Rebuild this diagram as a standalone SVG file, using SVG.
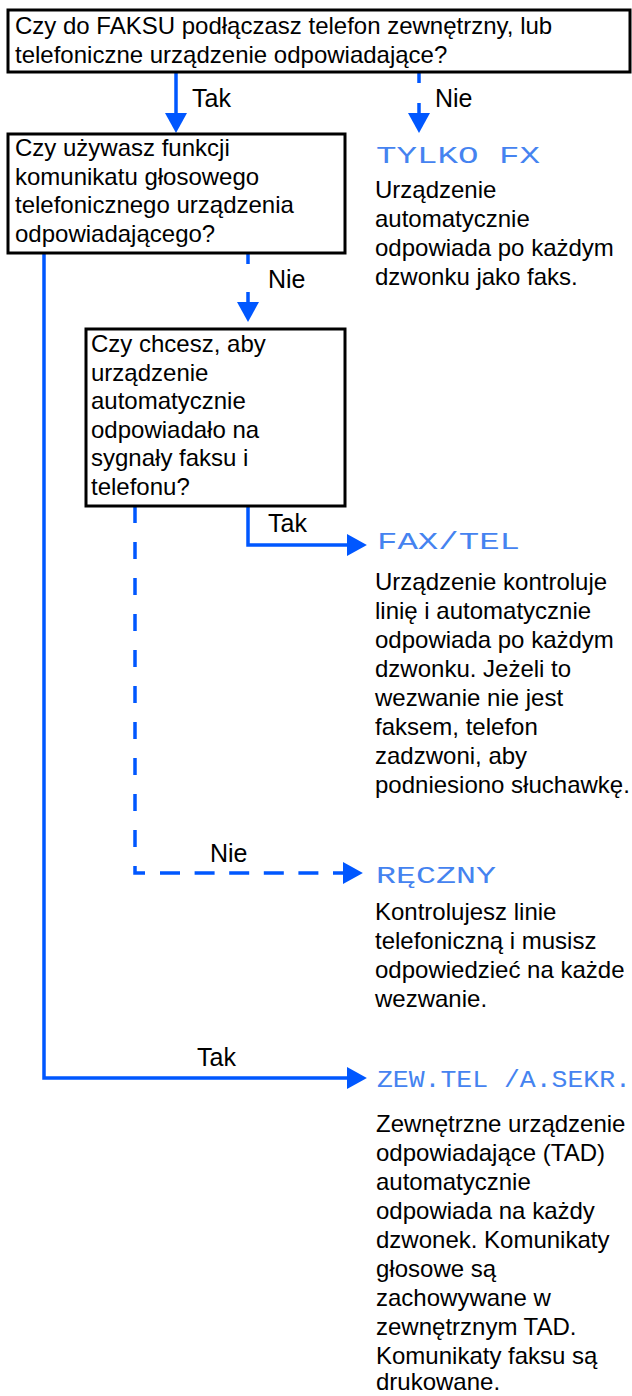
<svg xmlns="http://www.w3.org/2000/svg" width="632" height="1396" viewBox="0 0 632 1396">
  <style>
    .box { fill: #ffffff; stroke: #000000; stroke-width: 3; }
    .q { font-family: "Liberation Sans", Arial, sans-serif; font-size: 24px; fill: #000000; }
    .lbl { font-family: "Liberation Sans", Arial, sans-serif; font-size: 25px; fill: #000000; }
    .mode { font-family: "Liberation Mono", "Courier New", monospace; font-size: 23px; fill: #4583f0; }
    .desc { font-family: "Liberation Sans", Arial, sans-serif; font-size: 24px; fill: #000000; }
    .flow { fill: none; stroke: #0057ff; stroke-width: 3.5; }
  </style>
  <defs>
    <marker id="head" markerUnits="userSpaceOnUse" markerWidth="20" markerHeight="22" viewBox="0 0 19 21" refX="0" refY="10.5" orient="auto">
      <path d="M0,0 L19,10.5 L0,21 Z" fill="#0057ff"/>
    </marker>
  </defs>

  <rect width="632" height="1396" fill="#ffffff"/>

  <!-- connectors -->
  <g id="connectors">
    <path class="flow" d="M176,72 V113" marker-end="url(#head)"/>
    <path class="flow" d="M419,72 V113" stroke-dasharray="11 20 10" marker-end="url(#head)"/>
    <path class="flow" d="M248,254 V302" stroke-dasharray="10 28 10" marker-end="url(#head)"/>
    <path class="flow" d="M248,507 V545 H347" marker-end="url(#head)"/>
    <path class="flow" d="M135,506 V873 H145" stroke-dasharray="17 19"/>
    <path class="flow" d="M160,873 H343" stroke-dasharray="20 14.6" marker-end="url(#head)"/>
    <path class="flow" d="M44,254 V1078 H347" marker-end="url(#head)"/>
  </g>

  <!-- branch labels -->
  <g id="labels">
    <text class="lbl" x="192" y="107">Tak</text>
    <text class="lbl" x="435" y="107">Nie</text>
    <text class="lbl" x="268" y="288">Nie</text>
    <text class="lbl" x="268" y="532">Tak</text>
    <text class="lbl" x="210" y="862">Nie</text>
    <text class="lbl" x="197" y="1066">Tak</text>
  </g>

  <!-- question 1 -->
  <g id="q-external-phone">
    <rect class="box" x="8" y="10" width="622" height="62"/>
    <text class="q" x="15" y="34">Czy do FAKSU podłączasz telefon zewnętrzny, lub</text>
    <text class="q" x="15" y="63">telefoniczne urządzenie odpowiadające?</text>
  </g>

  <!-- question 2 -->
  <g id="q-voice-message">
    <rect class="box" x="8" y="134" width="337" height="119"/>
    <text class="q" x="15" y="156">Czy używasz funkcji</text>
    <text class="q" x="15" y="184.7">komunikatu głosowego</text>
    <text class="q" x="15" y="213.4">telefonicznego urządzenia</text>
    <text class="q" x="15" y="242.1">odpowiadającego?</text>
  </g>

  <!-- question 3 -->
  <g id="q-auto-answer">
    <rect class="box" x="86" y="329" width="259" height="177"/>
    <text class="q" x="91" y="352">Czy chcesz, aby</text>
    <text class="q" x="91" y="380.6">urządzenie</text>
    <text class="q" x="91" y="409.2">automatycznie</text>
    <text class="q" x="91" y="437.8">odpowiadało na</text>
    <text class="q" x="91" y="466.4">sygnały faksu i</text>
    <text class="q" x="91" y="495">telefonu?</text>
  </g>

  <!-- mode: fax only -->
  <g id="mode-fax-only">
    <text class="mode" x="376" y="163" textLength="164" lengthAdjust="spacingAndGlyphs">TYLKO FX</text>
    <text class="desc" x="375" y="198">Urządzenie</text>
    <text class="desc" x="375" y="227">automatycznie</text>
    <text class="desc" x="375" y="256">odpowiada po każdym</text>
    <text class="desc" x="375" y="285">dzwonku jako faks.</text>
  </g>

  <!-- mode: fax/tel -->
  <g id="mode-fax-tel">
    <text class="mode" x="377" y="549" textLength="143" lengthAdjust="spacingAndGlyphs">FAX/TEL</text>
    <text class="desc" x="375" y="590">Urządzenie kontroluje</text>
    <text class="desc" x="375" y="619">linię i automatycznie</text>
    <text class="desc" x="375" y="648">odpowiada po każdym</text>
    <text class="desc" x="375" y="677">dzwonku. Jeżeli to</text>
    <text class="desc" x="375" y="706">wezwanie nie jest</text>
    <text class="desc" x="375" y="735">faksem, telefon</text>
    <text class="desc" x="375" y="764">zadzwoni, aby</text>
    <text class="desc" x="375" y="793">podniesiono słuchawkę.</text>
  </g>

  <!-- mode: manual -->
  <g id="mode-manual">
    <text class="mode" x="376" y="883" textLength="120" lengthAdjust="spacingAndGlyphs">RĘCZNY</text>
    <text class="desc" x="375" y="920">Kontrolujesz linie</text>
    <text class="desc" x="375" y="949">telefoniczną i musisz</text>
    <text class="desc" x="375" y="978">odpowiedzieć na każde</text>
    <text class="desc" x="375" y="1007">wezwanie.</text>
  </g>

  <!-- mode: external TAD -->
  <g id="mode-ext-tad">
    <text class="mode" x="377" y="1087" textLength="254" lengthAdjust="spacingAndGlyphs">ZEW.TEL /A.SEKR.</text>
    <text class="desc" x="376" y="1132">Zewnętrzne urządzenie</text>
    <text class="desc" x="376" y="1161">odpowiadające (TAD)</text>
    <text class="desc" x="376" y="1190">automatycznie</text>
    <text class="desc" x="376" y="1219">odpowiada na każdy</text>
    <text class="desc" x="376" y="1248">dzwonek. Komunikaty</text>
    <text class="desc" x="376" y="1277">głosowe są</text>
    <text class="desc" x="376" y="1306">zachowywane w</text>
    <text class="desc" x="376" y="1335">zewnętrznym TAD.</text>
    <text class="desc" x="376" y="1364">Komunikaty faksu są</text>
    <text class="desc" x="376" y="1390">drukowane.</text>
  </g>
</svg>
